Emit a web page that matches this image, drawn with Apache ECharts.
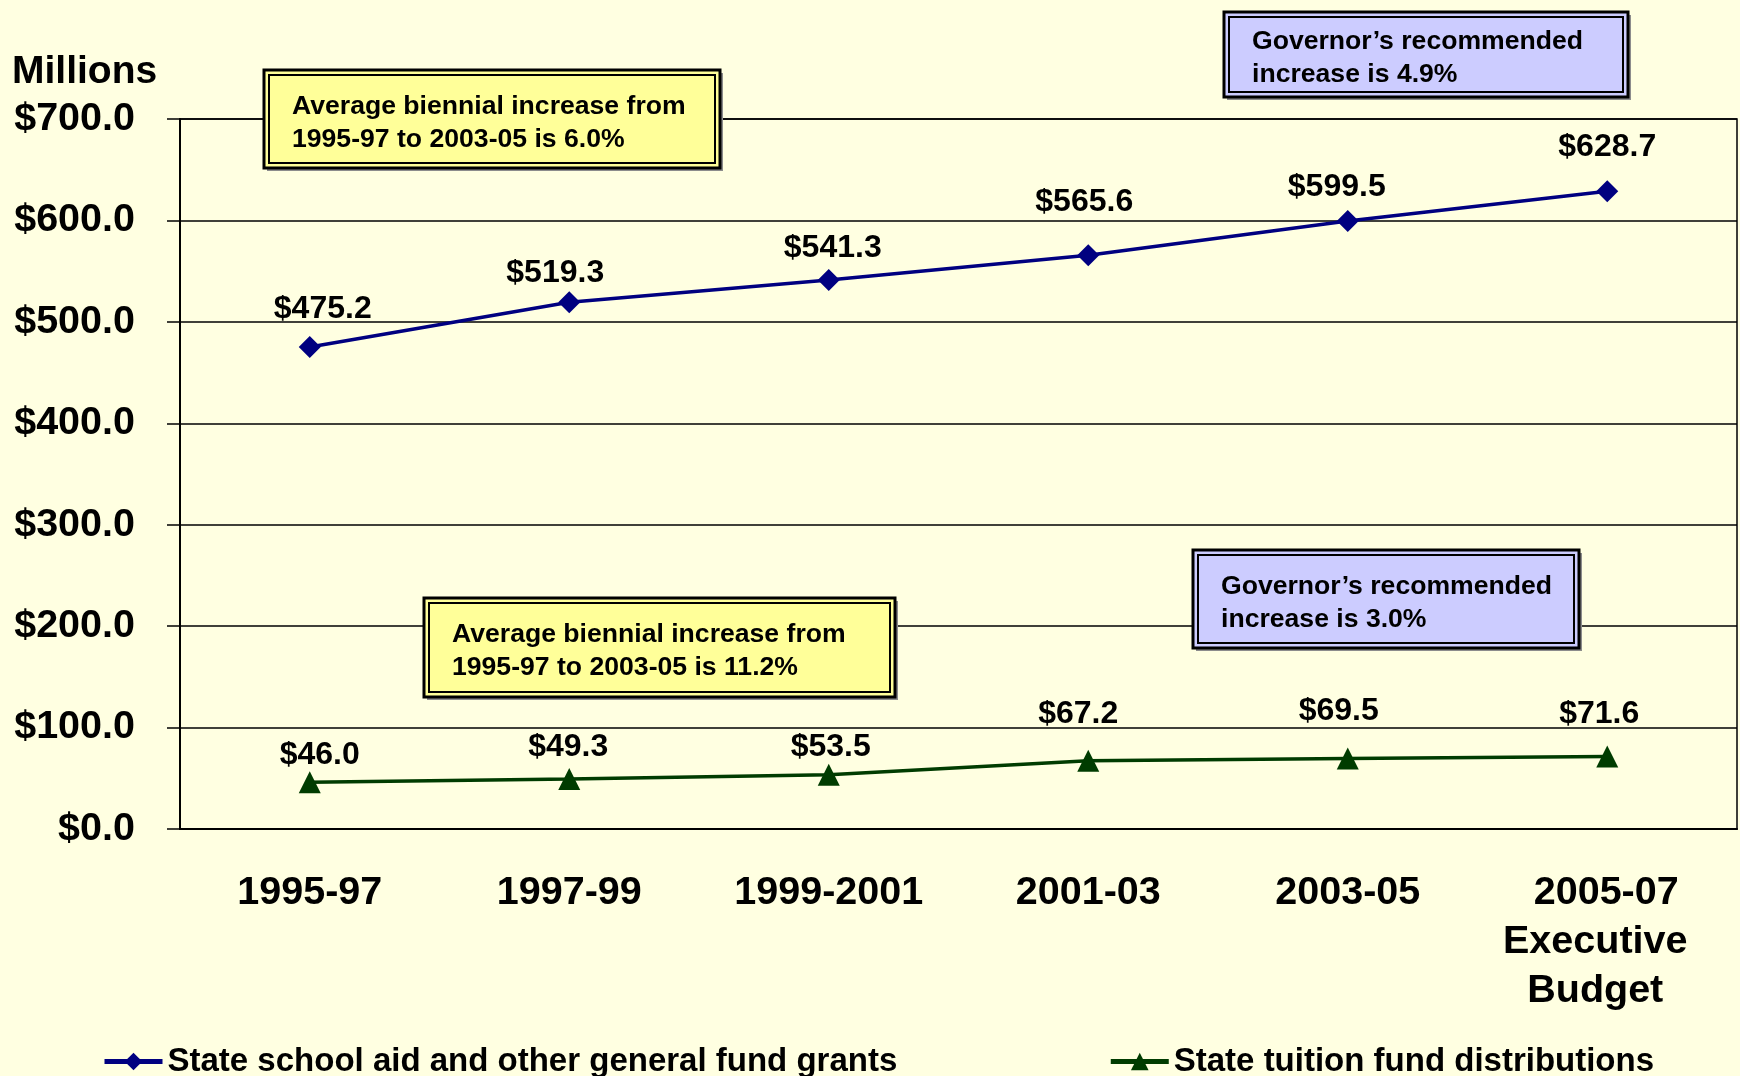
<!DOCTYPE html>
<html>
<head>
<meta charset="utf-8">
<script src="https://cdn.jsdelivr.net/npm/echarts@6/dist/echarts.min.js"></script>
<style>
  html, body { margin: 0; padding: 0; background: #FFFFE1; }
  #chart { width: 1740px; height: 1076px; }
</style>
</head>
<body>
<div id="chart"></div>
<script>
// biennium labels
var periods = ['1995-97', '1997-99', '1999-2001', '2001-03', '2003-05', '  2005-07\nExecutive\nBudget'];
// millions of dollars
var schoolAid = [475.2, 519.3, 541.3, 565.6, 599.5, 628.7];
var tuitionFund = [46.0, 49.3, 53.5, 67.2, 69.5, 71.6];
var seriesNames = ['State school aid and other general fund grants', 'State tuition fund distributions'];
var notes = [
  'Average biennial increase from\n1995-97 to 2003-05 is 6.0%',
  'Governor\u2019s recommended\nincrease is 4.9%',
  'Average biennial increase from\n1995-97 to 2003-05 is 11.2%',
  'Governor\u2019s recommended\nincrease is 3.0%'
];

var FONT = '"Liberation Sans", Arial, sans-serif';

// label nudges, like the hand placed labels in the original
var blueNudge = [[13, -38], [-14, -29], [4, -32], [-4, -53], [-11, -34], [0, -44]];
var greenNudge = [[10, -27], [-1, -32], [2, -28], [-10, -47], [-9, -47], [-8, -42]];

function withLabels(values, nudge) {
  return values.map(function (v, i) {
    return { value: v, label: { offset: nudge[i] } };
  });
}

// text box with double border and a small drop shadow, drawn above the gridlines
function note(x, y, w, h, fill, text) {
  return {
    type: 'group',
    z: 100,
    children: [
      { type: 'rect', z: 100, shape: { x: x + 3, y: y + 3, width: w, height: h }, style: { fill: '#8c8c8c' } },
      { type: 'rect', z: 101, shape: { x: x, y: y, width: w, height: h }, style: { fill: fill, stroke: '#000', lineWidth: 3 } },
      { type: 'rect', z: 102, shape: { x: x + 5, y: y + 5, width: w - 10, height: h - 10 }, style: { fill: 'none', stroke: '#000', lineWidth: 2 } },
      {
        type: 'text', z: 103,
        style: {
          text: text, x: x + 28, y: y + h / 2 + 4,
          font: 'bold 26.6px ' + FONT, fill: '#000',
          verticalAlign: 'middle', lineHeight: 33
        }
      }
    ]
  };
}

// last category label sits a bit left of its tick centre in the original
var categoryData = periods.map(function (p, i) {
  return i === periods.length - 1 ? { value: p, textStyle: { padding: [0, 24, 0, 0] } } : p;
});

var chart = echarts.init(document.getElementById('chart'));

var labelFmt = function (p) { return '$' + p.value.toFixed(1); };

var option = {
  backgroundColor: '#FFFFE1',
  animation: false,
  grid: {
    left: 180, right: 3, top: 119, bottom: 247,
    show: true, borderColor: '#000', borderWidth: 1.5, backgroundColor: 'transparent'
  },
  xAxis: {
    type: 'category',
    data: categoryData,
    boundaryGap: true,
    axisLine: { lineStyle: { color: '#000', width: 2 } },
    axisTick: { length: 12, lineStyle: { color: '#000', width: 1.5 } },
    axisLabel: {
      margin: 40, color: '#000', fontFamily: FONT, fontWeight: 'bold',
      fontSize: 39.5, lineHeight: 49, interval: 0
    }
  },
  yAxis: {
    type: 'value',
    min: 0, max: 700, interval: 100,
    axisLine: { show: true, lineStyle: { color: '#000', width: 2 } },
    axisTick: { show: true, length: 13, lineStyle: { color: '#000', width: 1.5 } },
    splitLine: { lineStyle: { color: '#000', width: 1.5 } },
    axisLabel: {
      margin: 45, color: '#000', fontFamily: FONT, fontWeight: 'bold', fontSize: 39.5,
      formatter: function (v) { return '$' + v.toFixed(1); }
    }
  },
  legend: {
    left: 97, top: 1040,
    itemWidth: 58, itemHeight: 22, itemGap: 211,
    lineStyle: { width: 5 },
    textStyle: { color: '#000', fontFamily: FONT, fontWeight: 'bold', fontSize: 33 },
    data: seriesNames
  },
  series: [
    {
      name: seriesNames[0],
      type: 'line',
      data: withLabels(schoolAid, blueNudge),
      symbol: 'diamond', symbolSize: 22,
      lineStyle: { color: '#000080', width: 3.5 },
      itemStyle: { color: '#000080' },
      label: {
        show: true, position: 'inside', color: '#000',
        fontFamily: FONT, fontWeight: 'bold', fontSize: 32,
        formatter: labelFmt
      }
    },
    {
      name: seriesNames[1],
      type: 'line',
      data: withLabels(tuitionFund, greenNudge),
      symbol: 'triangle', symbolSize: 22,
      lineStyle: { color: '#003c00', width: 3.5 },
      itemStyle: { color: '#003c00' },
      label: {
        show: true, position: 'inside', color: '#000',
        fontFamily: FONT, fontWeight: 'bold', fontSize: 32,
        formatter: labelFmt
      }
    }
  ],
  graphic: [
    {
      type: 'text', left: 12, top: 53,
      style: { text: 'Millions', font: 'bold 39px ' + FONT, fill: '#000' }
    },
    note(264, 70, 456, 98, '#FFFF99', notes[0]),
    note(1224, 12, 404, 85, '#CCCCFF', notes[1]),
    note(424, 598, 471, 99, '#FFFF99', notes[2]),
    note(1193, 550, 386, 98, '#CCCCFF', notes[3])
  ]
};

chart.setOption(option);
</script>
</body>
</html>
